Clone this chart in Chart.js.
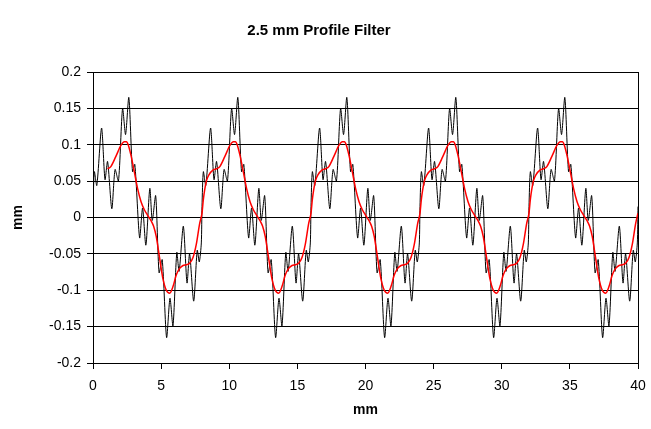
<!DOCTYPE html>
<html lang="en">
<head>
    <meta charset="UTF-8">
    <title>2.5 mm Profile Filter</title>
    <script src="https://cdn.jsdelivr.net/npm/chart.js"></script>
    <style>
        body { margin: 0; background: #ffffff; }
    </style>
</head>
<body>
    <canvas id="profileChart" width="651" height="429"></canvas>

    <script>
        // raw profile (black)
        const profileMm = [
            0, 0.1, 0.28, 0.63, 0.88, 1.07, 1.38, 1.62, 1.87, 2.17, 2.39, 2.63, 2.9, 3.07, 3.42, 3.64, 3.88, 4.17, 4.35, 4.6, 4.85, 5.08, 5.4, 5.65, 5.87, 6.15, 6.32, 6.63, 6.9, 7.09, 7.39, 7.65, 7.8, 7.95,
            8, 8.1, 8.28, 8.63, 8.88, 9.07, 9.38, 9.62, 9.87, 10.17, 10.39, 10.63, 10.9, 11.07, 11.42, 11.64, 11.88, 12.17, 12.35, 12.6, 12.85, 13.08, 13.4, 13.65, 13.87, 14.15, 14.32, 14.63, 14.9, 15.09, 15.39, 15.65, 15.8, 15.95,
            16, 16.1, 16.28, 16.63, 16.88, 17.07, 17.38, 17.62, 17.87, 18.17, 18.39, 18.63, 18.9, 19.07, 19.42, 19.64, 19.88, 20.17, 20.35, 20.6, 20.85, 21.08, 21.4, 21.65, 21.87, 22.15, 22.32, 22.63, 22.9, 23.09, 23.39, 23.65, 23.8, 23.95,
            24, 24.1, 24.28, 24.63, 24.88, 25.07, 25.38, 25.62, 25.87, 26.17, 26.39, 26.63, 26.9, 27.07, 27.42, 27.64, 27.88, 28.17, 28.35, 28.6, 28.85, 29.08, 29.4, 29.65, 29.87, 30.15, 30.32, 30.63, 30.9, 31.09, 31.39, 31.65, 31.8, 31.95,
            32, 32.1, 32.28, 32.63, 32.88, 33.07, 33.38, 33.62, 33.87, 34.17, 34.39, 34.63, 34.9, 35.07, 35.42, 35.64, 35.88, 36.17, 36.35, 36.6, 36.85, 37.08, 37.4, 37.65, 37.87, 38.15, 38.32, 38.63, 38.9, 39.09, 39.39, 39.65, 39.8, 39.95,
            40
        ];
        const profileRaw = [
            0.015, 0.063, 0.044, 0.123, 0.052, 0.077, 0.012, 0.066, 0.05, 0.15, 0.114, 0.165, 0.063, 0.073, -0.028, 0.013, -0.038, 0.04, -0.004, 0.03, -0.076, -0.058, -0.165, -0.111, -0.149, -0.048, -0.074, -0.012, -0.09, -0.05, -0.115, -0.045, -0.061, -0.035,
            0.015, 0.063, 0.044, 0.123, 0.052, 0.077, 0.012, 0.066, 0.05, 0.15, 0.114, 0.165, 0.063, 0.073, -0.028, 0.013, -0.038, 0.04, -0.004, 0.03, -0.076, -0.058, -0.165, -0.111, -0.149, -0.048, -0.074, -0.012, -0.09, -0.05, -0.115, -0.045, -0.061, -0.035,
            0.015, 0.063, 0.044, 0.123, 0.052, 0.077, 0.012, 0.066, 0.05, 0.15, 0.114, 0.165, 0.063, 0.073, -0.028, 0.013, -0.038, 0.04, -0.004, 0.03, -0.076, -0.058, -0.165, -0.111, -0.149, -0.048, -0.074, -0.012, -0.09, -0.05, -0.115, -0.045, -0.061, -0.035,
            0.015, 0.063, 0.044, 0.123, 0.052, 0.077, 0.012, 0.066, 0.05, 0.15, 0.114, 0.165, 0.063, 0.073, -0.028, 0.013, -0.038, 0.04, -0.004, 0.03, -0.076, -0.058, -0.165, -0.111, -0.149, -0.048, -0.074, -0.012, -0.09, -0.05, -0.115, -0.045, -0.061, -0.035,
            0.015, 0.063, 0.044, 0.123, 0.052, 0.077, 0.012, 0.066, 0.05, 0.15, 0.114, 0.165, 0.063, 0.073, -0.028, 0.013, -0.038, 0.04, -0.004, 0.03, -0.076, -0.058, -0.165, -0.111, -0.149, -0.048, -0.074, -0.012, -0.09, -0.05, -0.115, -0.045, -0.061, -0.035,
            0.015
        ];

        // 2.5 mm filtered mean line (red), starts where the filter window fits
        const filterMm = [
            1.07, 1.31, 1.68, 2.05, 2.3, 2.45, 2.6, 2.78, 3.03, 3.27, 3.52, 3.76, 4.01, 4.25, 4.45, 4.64, 4.89, 5.13, 5.38, 5.63, 5.87, 6.11, 6.36, 6.61, 6.85, 7.09, 7.34, 7.58, 7.83,
            8, 8.1, 8.32, 8.52, 8.8, 9.07, 9.31, 9.68, 10.05, 10.3, 10.45, 10.6, 10.78, 11.03, 11.27, 11.52, 11.76, 12.01, 12.25, 12.45, 12.64, 12.89, 13.13, 13.38, 13.63, 13.87, 14.11, 14.36, 14.61, 14.85, 15.09, 15.34, 15.58, 15.83,
            16, 16.1, 16.32, 16.52, 16.8, 17.07, 17.31, 17.68, 18.05, 18.3, 18.45, 18.6, 18.78, 19.03, 19.27, 19.52, 19.76, 20.01, 20.25, 20.45, 20.64, 20.89, 21.13, 21.38, 21.63, 21.87, 22.11, 22.36, 22.61, 22.85, 23.09, 23.34, 23.58, 23.83,
            24, 24.1, 24.32, 24.52, 24.8, 25.07, 25.31, 25.68, 26.05, 26.3, 26.45, 26.6, 26.78, 27.03, 27.27, 27.52, 27.76, 28.01, 28.25, 28.45, 28.64, 28.89, 29.13, 29.38, 29.63, 29.87, 30.11, 30.36, 30.61, 30.85, 31.09, 31.34, 31.58, 31.83,
            32, 32.1, 32.32, 32.52, 32.8, 33.07, 33.31, 33.68, 34.05, 34.3, 34.45, 34.6, 34.78, 35.03, 35.27, 35.52, 35.76, 36.01, 36.25, 36.45, 36.64, 36.89, 37.13, 37.38, 37.63, 37.87, 38.11, 38.36, 38.61, 38.85, 39.09, 39.34, 39.58, 39.83,
            40
        ];
        const filterVal = [
            0.067, 0.07, 0.084, 0.099, 0.104, 0.104, 0.099, 0.086, 0.063, 0.04, 0.022, 0.011, 0.003, -0.004, -0.012, -0.026, -0.056, -0.084, -0.1, -0.104, -0.095, -0.079, -0.07, -0.066, -0.065, -0.063, -0.055, -0.037, -0.008,
            0.006, 0.025, 0.05, 0.059, 0.065, 0.067, 0.07, 0.084, 0.099, 0.104, 0.104, 0.099, 0.086, 0.063, 0.04, 0.022, 0.011, 0.003, -0.004, -0.012, -0.026, -0.056, -0.084, -0.1, -0.104, -0.095, -0.079, -0.07, -0.066, -0.065, -0.063, -0.055, -0.037, -0.008,
            0.006, 0.025, 0.05, 0.059, 0.065, 0.067, 0.07, 0.084, 0.099, 0.104, 0.104, 0.099, 0.086, 0.063, 0.04, 0.022, 0.011, 0.003, -0.004, -0.012, -0.026, -0.056, -0.084, -0.1, -0.104, -0.095, -0.079, -0.07, -0.066, -0.065, -0.063, -0.055, -0.037, -0.008,
            0.006, 0.025, 0.05, 0.059, 0.065, 0.067, 0.07, 0.084, 0.099, 0.104, 0.104, 0.099, 0.086, 0.063, 0.04, 0.022, 0.011, 0.003, -0.004, -0.012, -0.026, -0.056, -0.084, -0.1, -0.104, -0.095, -0.079, -0.07, -0.066, -0.065, -0.063, -0.055, -0.037, -0.008,
            0.006, 0.025, 0.05, 0.059, 0.065, 0.067, 0.07, 0.084, 0.099, 0.104, 0.104, 0.099, 0.086, 0.063, 0.04, 0.022, 0.011, 0.003, -0.004, -0.012, -0.026, -0.056, -0.084, -0.1, -0.104, -0.095, -0.079, -0.07, -0.066, -0.065, -0.063, -0.055, -0.037, -0.008,
            0.006
        ];

        const xTicks = [0, 5, 10, 15, 20, 25, 30, 35, 40];
        const yTicks = [-0.2, -0.15, -0.1, -0.05, 0, 0.05, 0.1, 0.15, 0.2];

        const fontFamily = '"Liberation Sans", Arial, sans-serif';

        // frame round the plot area (top and right edges)
        const plotFrame = {
            id: 'plotFrame',
            beforeDatasetsDraw(chart) {
                const { ctx, chartArea } = chart;
                ctx.save();
                ctx.strokeStyle = '#000000';
                ctx.lineWidth = 1;
                ctx.strokeRect(Math.round(chartArea.left) + 0.5, Math.round(chartArea.top) + 0.5,
                    Math.round(chartArea.right - chartArea.left), Math.round(chartArea.bottom - chartArea.top));
                ctx.restore();
            }
        };

        const ctx = document.getElementById('profileChart').getContext('2d');
        const chart = new Chart(ctx, {
            type: 'line',
            data: {
                datasets: [
                    {
                        label: 'Filtered',
                        data: filterMm.map((x, i) => ({ x: x, y: filterVal[i] })),
                        borderColor: '#ff0000',
                        borderWidth: 1.5,
                        pointRadius: 0,
                        cubicInterpolationMode: 'monotone',
                        fill: false
                    },
                    {
                        label: 'Profile',
                        data: profileMm.map((x, i) => ({ x: x, y: profileRaw[i] })),
                        borderColor: '#000000',
                        borderWidth: 1,
                        pointRadius: 0,
                        tension: 0.25,
                        fill: false
                    }
                ]
            },
            options: {
                responsive: false,
                animation: false,
                layout: { padding: { left: 0, right: 13, top: 0, bottom: 0 } },
                plugins: {
                    legend: { display: false },
                    tooltip: { enabled: false },
                    title: {
                        display: true,
                        text: '2.5 mm Profile Filter',
                        color: '#000000',
                        font: { family: fontFamily, size: 15, weight: 'bold' },
                        padding: { top: 22, bottom: 32 }
                    }
                },
                scales: {
                    x: {
                        type: 'linear',
                        min: 0,
                        max: 40,
                        afterBuildTicks: (scale) => { scale.ticks = xTicks.map(v => ({ value: v })); },
                        afterFit: (scale) => {
                            scale.height = 66;
                            scale.paddingLeft = 0;
                            scale.paddingRight = 0;
                        },
                        grid: { drawOnChartArea: false, color: '#000000', tickLength: 6 },
                        border: { color: '#000000', width: 1 },
                        ticks: {
                            color: '#000000',
                            font: { family: fontFamily, size: 14 },
                            padding: 9,
                            maxRotation: 0
                        },
                        title: {
                            display: true,
                            text: 'mm',
                            color: '#000000',
                            font: { family: fontFamily, size: 14, weight: 'bold' },
                            padding: { top: 4, bottom: 10 }
                        }
                    },
                    y: {
                        min: -0.2,
                        max: 0.2,
                        afterBuildTicks: (scale) => { scale.ticks = yTicks.map(v => ({ value: v })); },
                        afterFit: (scale) => { scale.width = 93; },
                        grid: { color: '#000000', tickLength: 6 },
                        border: { color: '#000000', width: 1 },
                        ticks: {
                            color: '#000000',
                            font: { family: fontFamily, size: 14 },
                            padding: 6,
                            callback: (v) => String(Math.round(v * 100) / 100)
                        },
                        title: {
                            display: true,
                            text: 'mm',
                            color: '#000000',
                            font: { family: fontFamily, size: 14, weight: 'bold' },
                            padding: { top: 10, bottom: 0 }
                        }
                    }
                }
            },
            plugins: [plotFrame]
        });
    </script>
</body>
</html>
